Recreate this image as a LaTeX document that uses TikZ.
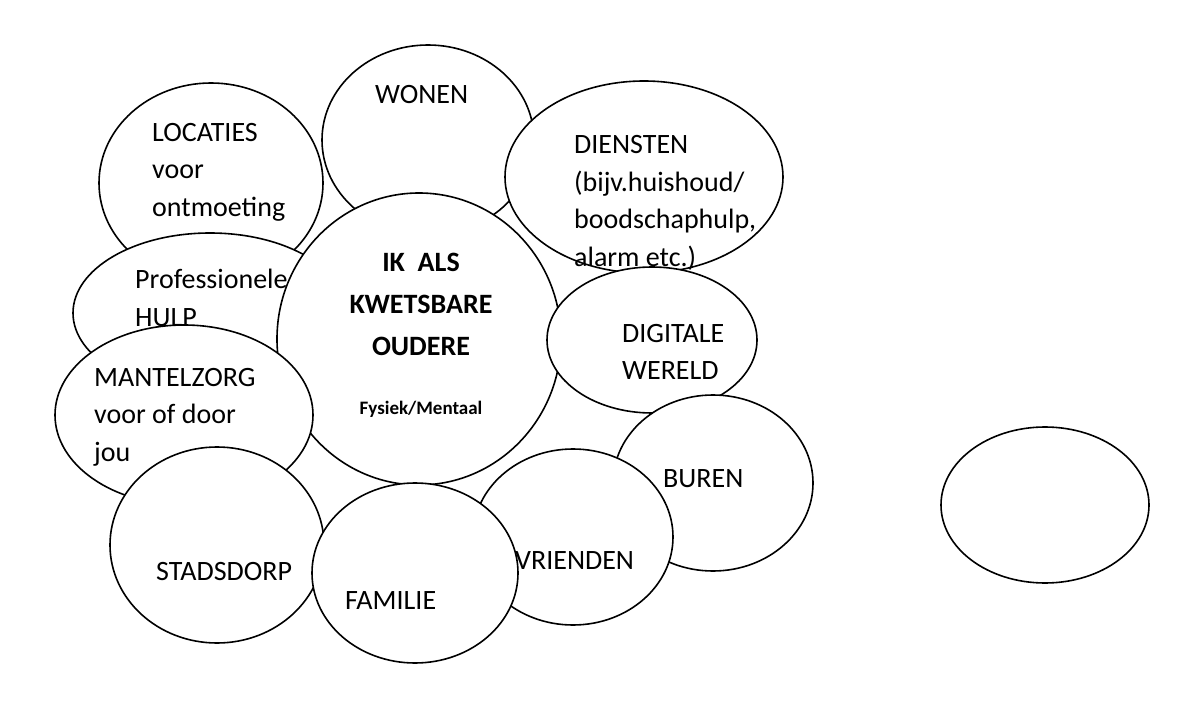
\documentclass[tikz,border=0pt]{standalone}
\usepackage{fontspec}
\setmainfont{Carlito}
\usetikzlibrary{calc}
\def\bubble(#1)(#2:#3){\draw[fill=white, line width=1.6pt] (#1) ellipse ({#2} and {#3});}
\tikzset{
	lbl/.style={font=\fontsize{28}{37.5}\selectfont, align=left, inner sep=0pt, anchor=west},
	hoofd/.style={font=\bfseries\fontsize{28}{42}\selectfont, align=center, inner sep=0pt}
}

\begin{document}
\begin{tikzpicture}[x=1pt, y=-1pt]
		%%%%% START %%%%%
		\useasboundingbox[fill=white] (0, 0) rectangle (1200, 706);
		
		\bubble(211, 183)(112:100);
		\node[lbl] (locaties) at (152, 172) {LOCATIES\\voor\\ontmoeting};
		
		\bubble(428, 140)(106:95);
		\node[lbl] (wonen) at (375, 95) {WONEN};
		
		\bubble(644, 177)(139:96);
		\node[lbl] (diensten) at (574, 203) {DIENSTEN\\(bijv.huishoud/\\boodschaphulp,\\alarm etc.)};
		
		\bubble(210, 313)(137:80);
		\node[lbl] (prof) at (135, 298) {Professionele\\HULP};
		
		\bubble(419, 339)(142:146);
		\node[hoofd] (ik) at (421, 304) {IK\ \ ALS\\KWETSBARE\\OUDERE};
		\node[font=\bfseries\fontsize{19}{22}\selectfont, inner sep=0pt] (fysiek) at (421, 409) {Fysiek/Mentaal};
		
		\bubble(652, 340)(105:73);
		\node[lbl] (digitaal) at (622, 352) {DIGITALE\\WERELD};
		
		\bubble(713, 483)(100:88);
		\node[lbl] (buren) at (663, 479) {BUREN};
		
		\bubble(573, 537)(100:88);
		\node[lbl] (vrienden) at (515, 561) {VRIENDEN};
		
		\bubble(184, 415)(129:90);
		\node[lbl] (mantelzorg) at (94, 417) {MANTELZORG\\voor of door\\jou};
		
		\bubble(217, 545)(107:98);
		\node[lbl] (stadsdorp) at (156, 572) {STADSDORP};
		
		\bubble(415, 573)(103:90);
		\node[lbl] (familie) at (345, 601) {FAMILIE};
		
		% losse lege bel
		\bubble(1045, 505)(104:78);
		
		%%%%% END %%%%%
	\end{tikzpicture}
\end{document}
